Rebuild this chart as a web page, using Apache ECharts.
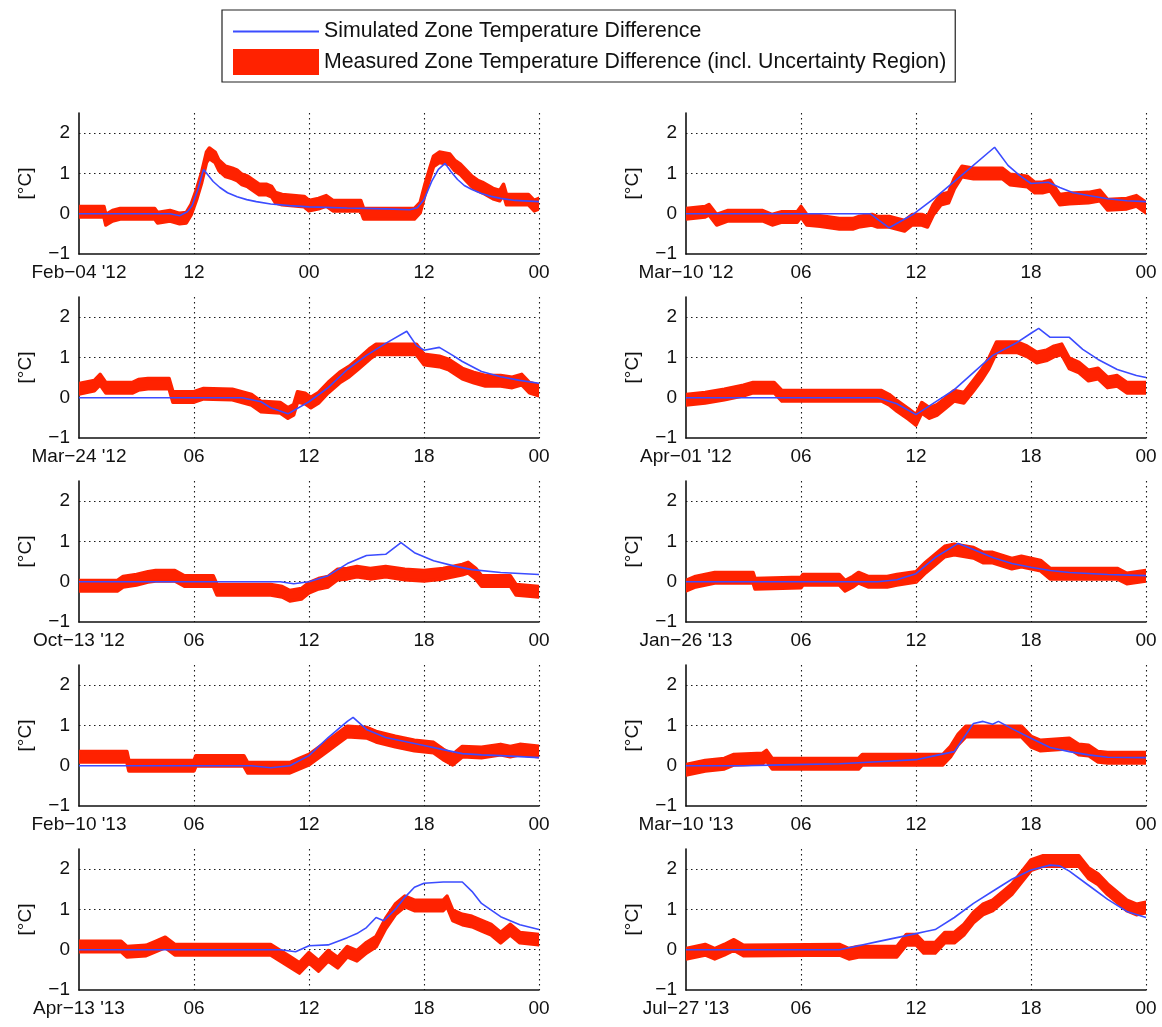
<!DOCTYPE html>
<html>
<head>
<meta charset="utf-8">
<title>Zone Temperature Difference</title>
<script src="https://cdn.jsdelivr.net/npm/echarts@6/dist/echarts.min.js"></script>
<style>
  html, body { margin: 0; padding: 0; background: #ffffff; }
  #chart { width: 1162px; height: 1027px; }
</style>
</head>
<body>
<div id="chart"></div>
<script>
// ---- Series names -------------------------------------------------------
const SIM = 'Simulated Zone Temperature Difference';
const MEAS = 'Measured Zone Temperature Difference (incl. Uncertainty Region)';

// Half-width of the measurement uncertainty band [°C]
const uncertainty = 0.13;

// ---- Tick labels --------------------------------------------------------
const yTickValues = [-1, 0, 1, 2];
const ticksFeb04_12 = ["Feb\u221204 '12", '12', '00', '12', '00'];
const ticksMar10_12 = ["Mar\u221210 '12", '06', '12', '18', '00'];
const ticksMar24_12 = ["Mar\u221224 '12", '06', '12', '18', '00'];
const ticksApr01_12 = ["Apr\u221201 '12", '06', '12', '18', '00'];
const ticksOct13_12 = ["Oct\u221213 '12", '06', '12', '18', '00'];
const ticksJan26_13 = ["Jan\u221226 '13", '06', '12', '18', '00'];
const ticksFeb10_13 = ["Feb\u221210 '13", '06', '12', '18', '00'];
const ticksMar10_13 = ["Mar\u221210 '13", '06', '12', '18', '00'];
const ticksApr13_13 = ["Apr\u221213 '13", '06', '12', '18', '00'];
const ticksJul27_13 = ["Jul\u221227 '13", '06', '12', '18', '00'];

// ---- Data: [hour since start, °C] ---------------------------------------
const measFeb04_12 = [[0,0.05],[2.6,0.05],[2.8,-0.15],[3.5,-0.05],[4.3,0.0],[7.9,0.0],[8.2,-0.1],[9.5,-0.05],[10.5,-0.12],[11.2,-0.1],[11.7,0.1],[12.3,0.5],[12.8,0.9],[13.3,1.4],[13.6,1.5],[14.2,1.4],[14.6,1.2],[15.3,1.05],[16.0,1.0],[16.5,0.95],[17.0,0.85],[17.6,0.8],[18.2,0.7],[18.8,0.6],[19.6,0.6],[20.1,0.55],[20.5,0.4],[21.2,0.35],[23.5,0.3],[24.0,0.2],[25.0,0.25],[25.8,0.32],[26.5,0.2],[29.4,0.2],[29.7,0.0],[35.0,0.0],[35.6,0.15],[36.1,0.6],[36.6,1.0],[37.0,1.3],[37.6,1.4],[38.7,1.35],[39.2,1.2],[39.8,1.1],[40.4,0.95],[41.0,0.8],[41.6,0.7],[42.1,0.65],[43.2,0.5],[43.9,0.45],[44.3,0.6],[44.6,0.35],[46.9,0.35],[47.5,0.2],[48,0.25]];
const simFeb04_12 = [[0,0],[9.5,0],[10.5,-0.05],[11.3,0.05],[11.8,0.2],[12.4,0.6],[13.0,1.1],[13.5,0.95],[14.0,0.8],[14.7,0.65],[15.5,0.52],[16.5,0.42],[17.5,0.35],[18.5,0.3],[20,0.24],[22,0.2],[24,0.17],[28,0.14],[32,0.12],[34.5,0.1],[35.3,0.15],[36,0.35],[36.8,0.8],[37.5,1.1],[38.2,1.25],[38.8,1.05],[39.5,0.85],[40.2,0.7],[41,0.6],[42,0.5],[43,0.43],[44,0.38],[45.5,0.33],[48,0.3]];

const measMar10_12 = [[0,0.0],[1.0,0.05],[1.2,0.1],[1.6,-0.15],[2.2,-0.05],[4.0,-0.05],[4.5,-0.15],[5.0,-0.08],[5.8,-0.08],[6.0,0.05],[6.3,-0.15],[7.0,-0.18],[8.0,-0.25],[8.7,-0.25],[9.0,-0.2],[9.7,-0.15],[10.0,-0.2],[10.6,-0.2],[11.0,-0.25],[11.4,-0.3],[11.8,-0.15],[12.3,-0.15],[12.6,-0.2],[12.9,0.1],[13.3,0.35],[13.7,0.4],[14.0,0.75],[14.4,1.05],[15.0,1.0],[16.5,1.0],[16.9,0.85],[17.8,0.8],[18.2,0.65],[18.6,0.65],[19.0,0.7],[19.5,0.35],[20.0,0.38],[21.0,0.4],[21.6,0.45],[22.0,0.22],[23.0,0.25],[23.5,0.32],[24,0.15]];
const simMar10_12 = [[0,0],[9.6,0],[10.6,-0.35],[11.9,0.0],[13.0,0.4],[14.5,1.0],[16.1,1.65],[16.8,1.2],[17.4,0.95],[18.0,0.75],[18.9,0.78],[19.5,0.65],[20.2,0.52],[21.0,0.45],[22.0,0.37],[23.0,0.32],[24,0.3]];

const measMar24_12 = [[0,0.22],[0.8,0.3],[1.1,0.45],[1.4,0.25],[2.8,0.25],[3.1,0.32],[3.6,0.35],[4.7,0.35],[4.9,0.02],[6.0,0.02],[6.5,0.1],[8.0,0.08],[9.0,-0.05],[9.5,-0.22],[10.5,-0.25],[10.9,-0.38],[11.2,-0.3],[11.4,0.02],[11.8,-0.02],[12.1,-0.12],[12.5,0.0],[13.0,0.25],[13.6,0.5],[14.1,0.65],[14.6,0.85],[15.2,1.1],[15.5,1.2],[17.6,1.2],[18.0,0.95],[18.8,0.9],[19.3,0.82],[20.0,0.6],[20.6,0.5],[21.2,0.42],[22.0,0.42],[22.6,0.38],[23.1,0.45],[23.5,0.25],[24,0.18]];
const simMar24_12 = [[0,0],[8.5,0],[9.5,-0.1],[10.0,-0.25],[10.9,-0.4],[12.0,-0.1],[13.0,0.25],[14.0,0.7],[15.0,1.05],[16.0,1.35],[17.1,1.65],[17.6,1.3],[18.0,1.18],[18.8,1.25],[19.5,1.05],[20.0,0.9],[21.0,0.65],[22.0,0.52],[23.0,0.43],[24,0.36]];

const measApr01_12 = [[0,-0.05],[1.0,0.0],[2.0,0.08],[3.0,0.18],[3.5,0.25],[4.6,0.25],[5.0,0.05],[10.2,0.05],[10.6,-0.05],[11.0,-0.2],[11.6,-0.4],[12.0,-0.55],[12.3,-0.25],[12.7,-0.38],[13.1,-0.3],[13.5,-0.15],[14.0,0.05],[14.5,0.0],[15.0,0.3],[15.4,0.55],[15.8,0.85],[16.2,1.25],[17.3,1.25],[17.8,1.15],[18.3,1.0],[18.8,1.05],[19.2,1.15],[19.6,1.2],[20.0,0.85],[20.5,0.75],[21.0,0.55],[21.5,0.6],[22.0,0.38],[22.5,0.42],[23.0,0.25],[24,0.25]];
const simApr01_12 = [[0,0],[10.0,0],[11.0,-0.15],[12.0,-0.42],[14.0,0.2],[16.0,1.05],[17.2,1.35],[18.0,1.6],[18.4,1.72],[19.0,1.5],[20.0,1.5],[20.7,1.2],[21.5,0.95],[22.5,0.7],[23.5,0.55],[24,0.5]];

const measOct13_12 = [[0,-0.1],[2.0,-0.1],[2.3,0.0],[3.0,0.05],[3.6,0.12],[4.0,0.15],[5.0,0.15],[5.5,0.02],[7.0,0.02],[7.2,-0.2],[10.0,-0.2],[10.6,-0.25],[11.0,-0.35],[11.6,-0.3],[12.0,-0.15],[12.5,-0.05],[13.0,0.0],[13.5,0.18],[14.0,0.2],[14.5,0.25],[15.2,0.2],[16.0,0.25],[17.0,0.18],[18.0,0.15],[19.0,0.2],[20.0,0.3],[20.3,0.35],[20.7,0.2],[21.0,0.02],[22.5,0.02],[22.8,-0.2],[24,-0.25]];
const simOct13_12 = [[0,0],[10.5,0],[11.2,-0.05],[12.0,0.0],[13.0,0.15],[14.0,0.45],[15.0,0.65],[16.0,0.68],[16.8,0.97],[17.5,0.72],[18.5,0.52],[19.5,0.4],[20.5,0.3],[22.0,0.23],[24,0.18]];

const measJan26_13 = [[0,-0.1],[0.5,0.0],[1.0,0.05],[1.5,0.1],[3.5,0.1],[3.6,-0.05],[6.0,-0.02],[6.1,0.05],[8.0,0.05],[8.3,-0.1],[8.7,0.0],[9.0,0.1],[9.5,0.0],[10.5,0.0],[11.0,0.05],[12.0,0.12],[12.5,0.35],[13.0,0.55],[13.5,0.75],[14.0,0.8],[15.0,0.72],[15.5,0.6],[16.0,0.6],[17.0,0.45],[17.5,0.5],[18.5,0.4],[19.0,0.2],[22.5,0.2],[23.0,0.08],[24,0.15]];
const simJan26_13 = [[0,0],[10.0,0],[11.0,0.05],[12.0,0.2],[13.0,0.6],[14.2,0.95],[15.0,0.8],[16.0,0.6],[17.0,0.45],[18.0,0.36],[19.0,0.28],[20.0,0.23],[22.0,0.18],[24,0.15]];

const measFeb10_13 = [[0,0.22],[2.5,0.22],[2.6,0.0],[6.0,0.0],[6.1,0.12],[8.6,0.12],[8.8,-0.05],[11.0,-0.05],[11.5,0.05],[12.0,0.15],[13.0,0.5],[14.0,0.85],[15.0,0.82],[15.5,0.72],[16.5,0.6],[17.5,0.5],[18.5,0.45],[19.0,0.28],[19.5,0.15],[20.0,0.35],[21.0,0.33],[22.0,0.4],[22.5,0.35],[23.0,0.4],[24,0.35]];
const simFeb10_13 = [[0,0],[9.0,0],[10.0,-0.05],[11.0,0.0],[12.0,0.25],[13.0,0.7],[14.0,1.1],[14.3,1.2],[15.0,0.9],[16.0,0.7],[17.0,0.6],[18.0,0.5],[19.0,0.4],[20.0,0.3],[21.0,0.27],[22.0,0.25],[24,0.2]];

const measMar10_13 = [[0,-0.1],[1.0,0.0],[2.0,0.05],[2.5,0.15],[4.0,0.18],[4.2,0.25],[4.5,0.05],[9.0,0.05],[9.2,0.15],[13.4,0.15],[13.8,0.35],[14.2,0.65],[14.6,0.85],[17.5,0.85],[18.0,0.6],[18.5,0.5],[20.0,0.55],[20.5,0.4],[21.0,0.38],[21.5,0.22],[22.0,0.2],[24,0.2]];
const simMar10_13 = [[0,0],[3.0,0],[5.0,0.02],[8.0,0.05],[10.0,0.1],[12.0,0.15],[13.0,0.25],[14.0,0.35],[14.5,0.7],[15.0,1.05],[15.5,1.1],[16.0,1.03],[16.3,1.1],[17.0,0.92],[18.0,0.68],[19.0,0.45],[20.0,0.35],[21.0,0.27],[22.0,0.21],[24,0.2]];

const measApr13_13 = [[0,0.08],[2.2,0.08],[2.5,-0.05],[3.5,-0.02],[4.0,0.08],[4.5,0.18],[5.0,0.0],[10.0,0.0],[10.5,-0.15],[11.0,-0.3],[11.5,-0.45],[12.0,-0.2],[12.5,-0.4],[13.0,-0.15],[13.5,-0.32],[14.0,-0.05],[14.5,-0.15],[15.0,0.05],[15.5,0.2],[16.0,0.65],[16.5,1.0],[17.0,1.2],[17.5,1.1],[19.0,1.1],[19.2,1.2],[19.5,0.85],[20.0,0.75],[20.5,0.7],[21.0,0.6],[21.5,0.5],[22.0,0.3],[22.5,0.5],[23.0,0.3],[24,0.25]];
const simApr13_13 = [[0,0],[10.5,0],[11.3,-0.05],[12.0,0.1],[13.0,0.12],[14.0,0.3],[14.5,0.4],[15.0,0.55],[15.5,0.8],[15.9,0.72],[16.5,1.0],[17.0,1.3],[17.5,1.55],[18.0,1.65],[19.0,1.68],[20.0,1.68],[20.5,1.45],[21.0,1.15],[22.0,0.82],[23.0,0.62],[24,0.5]];

const measJul27_13 = [[0,-0.1],[1.0,0.0],[1.5,-0.1],[2.0,0.0],[2.5,0.12],[3.0,-0.02],[8.0,0.0],[8.5,-0.1],[9.0,-0.05],[11.0,-0.05],[11.5,0.25],[12.0,0.25],[12.4,0.05],[13.0,0.05],[13.5,0.3],[14.0,0.3],[14.5,0.5],[15.0,0.8],[15.5,1.0],[16.0,1.1],[17.0,1.5],[17.5,1.8],[18.0,2.1],[18.6,2.2],[20.5,2.2],[21.0,1.9],[21.5,1.75],[22.0,1.5],[23.0,1.1],[23.5,1.0],[24,1.05]];
const simJul27_13 = [[0,0],[8.0,0],[9.0,0.1],[10.0,0.2],[11.0,0.3],[12.0,0.4],[12.5,0.45],[13.0,0.5],[14.0,0.8],[15.0,1.15],[16.0,1.45],[17.0,1.75],[18.0,1.98],[19.0,2.1],[19.5,2.08],[20.0,1.95],[21.0,1.6],[22.0,1.25],[23.0,0.95],[24,0.8]];

// ---- Panels, row by row (left, right) -----------------------------------
const panels = [
  { hours: 48, ticks: ticksFeb04_12, sim: simFeb04_12, meas: measFeb04_12 },
  { hours: 24, ticks: ticksMar10_12, sim: simMar10_12, meas: measMar10_12 },
  { hours: 24, ticks: ticksMar24_12, sim: simMar24_12, meas: measMar24_12 },
  { hours: 24, ticks: ticksApr01_12, sim: simApr01_12, meas: measApr01_12 },
  { hours: 24, ticks: ticksOct13_12, sim: simOct13_12, meas: measOct13_12 },
  { hours: 24, ticks: ticksJan26_13, sim: simJan26_13, meas: measJan26_13 },
  { hours: 24, ticks: ticksFeb10_13, sim: simFeb10_13, meas: measFeb10_13 },
  { hours: 24, ticks: ticksMar10_13, sim: simMar10_13, meas: measMar10_13 },
  { hours: 24, ticks: ticksApr13_13, sim: simApr13_13, meas: measApr13_13 },
  { hours: 24, ticks: ticksJul27_13, sim: simJul27_13, meas: measJul27_13 }
];

// ---- Layout & style -----------------------------------------------------
const FONT = '"Liberation Sans", Arial, Helvetica, sans-serif';
const FONT_SIZE = 19;
const BLUE = '#3b4cff';
const RED = '#ff2200';
const INK = '#111111';
const colLeft = [79, 686];
const rowTop = [113, 297, 481, 665, 849];
const plotW = 460;
const plotH = 141;
const gridDots = { color: '#1a1a1a', width: 1.1, type: [1.5, 3.5] };

const grids = [], xAxes = [], yAxes = [], series = [];

panels.forEach((p, i) => {
  const row = Math.floor(i / 2), col = i % 2;
  grids.push({ left: colLeft[col], top: rowTop[row], width: plotW, height: plotH, containLabel: false });

  const step = p.hours / 4;
  xAxes.push({
    type: 'value', gridIndex: i, min: 0, max: p.hours, interval: step,
    axisLine: { show: true, onZero: false, lineStyle: { color: INK, width: 1.6 } },
    axisTick: { show: false },
    axisLabel: {
      margin: 9, fontFamily: FONT, fontSize: FONT_SIZE, color: INK,
      showMinLabel: true, showMaxLabel: true,
      formatter: v => p.ticks[Math.round(v / step)] ?? ''
    },
    splitLine: { show: true, showMinLine: false, showMaxLine: true, lineStyle: gridDots }
  });

  yAxes.push({
    type: 'value', gridIndex: i, min: -1, max: 2.5, interval: 1,
    name: '[\u00B0C]', nameLocation: 'middle', nameGap: 44,
    nameTextStyle: { fontFamily: FONT, fontSize: FONT_SIZE, color: INK },
    axisLine: { show: true, lineStyle: { color: INK, width: 1.6 } },
    axisTick: { show: false },
    axisLabel: {
      margin: 9, fontFamily: FONT, fontSize: FONT_SIZE, color: INK,
      showMaxLabel: false,
      formatter: v => yTickValues.includes(v) ? (v < 0 ? '\u2212' + Math.abs(v) : String(v)) : ''
    },
    splitLine: { show: true, showMinLine: false, showMaxLine: false, lineStyle: gridDots }
  });

  // Uncertainty band: one polygon, upper edge forward then lower edge back
  series.push({
    name: MEAS, type: 'custom', xAxisIndex: i, yAxisIndex: i,
    data: p.meas, encode: { x: 0, y: 1 },
    silent: true, z: 2, clip: true,
    itemStyle: { color: RED },
    renderItem: (params, api) => {
      if (params.dataIndex !== 0) return null;
      const upper = p.meas.map(([h, v]) => api.coord([h, v + uncertainty]));
      const lower = p.meas.map(([h, v]) => api.coord([h, v - uncertainty])).reverse();
      return {
        type: 'polygon',
        shape: { points: upper.concat(lower) },
        style: { fill: RED, stroke: RED, lineWidth: 3.5, lineJoin: 'round' }
      };
    }
  });
  series.push({
    name: SIM, type: 'line', xAxisIndex: i, yAxisIndex: i,
    data: p.sim, symbol: 'none', silent: true, z: 3,
    color: BLUE, itemStyle: { color: BLUE },
    lineStyle: { width: 1.6, color: BLUE }
  });
});

const chart = echarts.init(document.getElementById('chart'), null, { renderer: 'canvas' });
chart.setOption({
  animation: false,
  backgroundColor: '#ffffff',
  legend: {
    orient: 'vertical', left: 222, top: 10,
    padding: [11, 9, 7, 11], itemGap: 7, itemWidth: 86, itemHeight: 26, itemTextGap: 7,
    borderColor: '#222', borderWidth: 1.2, backgroundColor: '#ffffff',
    selectedMode: false,
    textStyle: { fontFamily: FONT, fontSize: 21.3, color: INK },
    data: [
      { name: SIM, icon: 'path://M0,0H86V2H0Z' },
      { name: MEAS, icon: 'rect', itemStyle: { color: RED } }
    ]
  },
  grid: grids,
  xAxis: xAxes,
  yAxis: yAxes,
  series: series
});
</script>
</body>
</html>
